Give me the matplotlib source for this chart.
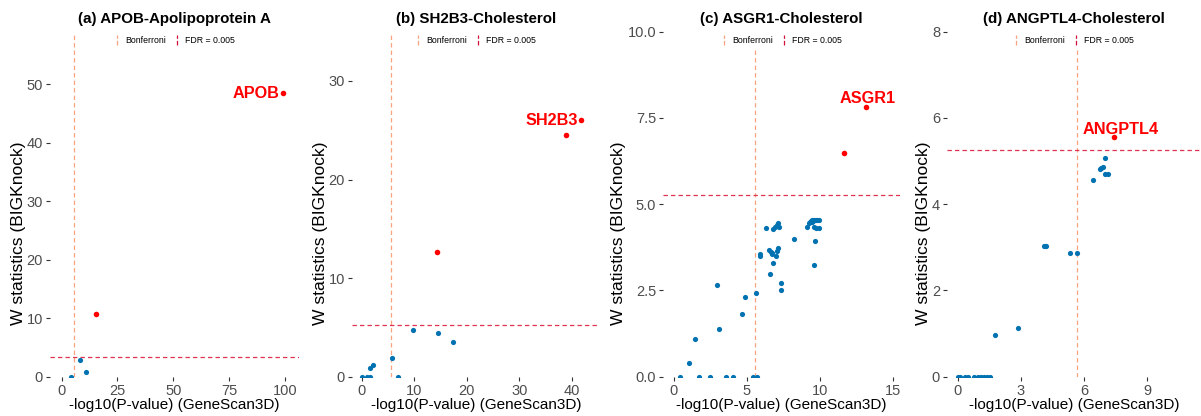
import matplotlib
matplotlib.use("Agg")
import matplotlib.pyplot as plt
from matplotlib.lines import Line2D
from matplotlib.legend_handler import HandlerBase
from matplotlib.ticker import FormatStrFormatter, FixedLocator

plt.rcParams['font.family'] = ['Liberation Sans', 'DejaVu Sans']

# ---------------- data ----------------
titles = ["(a) APOB-Apolipoprotein A", "(b) SH2B3-Cholesterol",
          "(c) ASGR1-Cholesterol", "(d) ANGPTL4-Cholesterol"]
genes = ["APOB", "SH2B3", "ASGR1", "ANGPTL4"]

a_blue_x = [4.0, 8.2, 11.0]
a_blue_y = [0.0, 2.8, 0.86]
a_red_x = [15.4, 99.2]
a_red_y = [10.7, 48.5]

b_blue_x = [0.1, 1.0, 1.65, 6.98, 1.52, 2.22, 5.84, 9.78, 14.6, 17.4]
b_blue_y = [0.0, 0.0, 0.0, 0.0, 0.85, 1.15, 1.93, 4.73, 4.43, 3.55]
b_red_x = [14.4, 39.0, 41.85]
b_red_y = [12.66, 24.5, 26.0]

c_blue_x = [0.46, 1.75, 2.5, 3.6, 4.09, 5.45, 5.7,
            1.09, 1.50, 3.14, 2.96, 4.71, 4.89, 5.64, 7.36, 7.36, 6.61, 6.80,
            7.0, 5.91, 5.93, 6.55, 6.65, 6.72, 6.77, 7.11, 7.18, 6.30, 6.84,
            6.95, 7.05, 7.14, 7.23, 8.27, 9.66, 9.59, 9.13, 9.27, 9.39, 9.5,
            9.61, 9.73, 9.84, 9.95, 9.33, 9.45, 9.56, 9.59, 9.77, 9.93]
c_blue_y = [0.0, 0.0, 0.0, 0.0, 0.0, 0.0, 0.0,
            0.40, 1.10, 1.38, 2.67, 1.83, 2.32, 2.42, 2.71, 2.51, 2.98, 3.31,
            3.49, 3.50, 3.55, 3.68, 3.62, 3.59, 3.57, 3.63, 3.74, 4.30, 4.29,
            4.34, 4.40, 4.45, 4.35, 4.00, 3.93, 3.23, 4.35, 4.45, 4.50, 4.54,
            4.55, 4.55, 4.55, 4.55, 4.47, 4.48, 4.50, 4.33, 4.30, 4.31]
c_red_x = [11.64, 13.18]
c_red_y = [6.47, 7.82]

d_blue_x = [0.0, 0.12, 0.35, 0.5, 0.8, 0.95, 1.1, 1.25, 1.4, 1.55,
            1.79, 2.86, 4.11, 4.16, 4.21, 5.34, 5.69, 6.43, 6.74, 6.82, 6.9,
            6.98, 7.01, 7.14]
d_blue_y = [0.0, 0.0, 0.0, 0.0, 0.0, 0.0, 0.0, 0.0, 0.0, 0.0,
            0.97, 1.14, 3.03, 3.03, 3.03, 2.86, 2.86, 4.57, 4.81, 4.84, 4.86,
            5.06, 4.71, 4.70]
d_red_x = [7.44]
d_red_y = [5.55]

bonferroni = [5.6, 5.65, 5.61, 5.65]
fdr = [3.45, 5.24, 5.26, 5.25]

x_ticks = [[0, 25, 50, 75, 100], [0, 10, 20, 30, 40], [0, 5, 10, 15], [0, 3, 6, 9]]
y_ticks = [[0, 10, 20, 30, 40, 50], [0, 10, 20, 30], [0, 2.5, 5.0, 7.5, 10.0], [0, 2, 4, 6, 8]]
y_fmt = ['%d', '%d', '%.1f', '%d']
x_lims = [(-5.2, 106.3), (-1.85, 45.4), (-0.72, 15.5), (-0.5, 11.55)]
y_lims = [(0, 59.0), (0, 35.0), (0, 10.0), (0, 8.0)]

blue_x = [a_blue_x, b_blue_x, c_blue_x, d_blue_x]
blue_y = [a_blue_y, b_blue_y, c_blue_y, d_blue_y]
red_x = [a_red_x, b_red_x, c_red_x, d_red_x]
red_y = [a_red_y, b_red_y, c_red_y, d_red_y]

# ---------------- style ----------------
W, H = 1201, 416
panel_px = [(50, 299), (352, 600), (663, 900), (947, 1201)]
top_px, bot_px = 31.7, 376.7
label_offsets = [(-3.0, 0, 'right', 'center'), (-2.6, 0, 'right', 'center'),
                 (1.4, 6.3, 'center', 'center'), (4.6, 5.8, 'center', 'center')]

BLUE = '#0072B2'
RED = '#FF0000'
BONF_COL = '#F8A27E'
FDR_COL = '#E0334F'


class VLineHandler(HandlerBase):
    def create_artists(self, legend, orig_handle, xdescent, ydescent,
                       width, height, fontsize, trans):
        x = width / 2.0 - xdescent
        l = Line2D([x, x], [-ydescent - 1.5, height - ydescent + 1.5],
                   color=orig_handle.get_color(),
                   linestyle=orig_handle.get_linestyle(),
                   linewidth=orig_handle.get_linewidth())
        l.set_transform(trans)
        return [l]


fig = plt.figure(figsize=(W / 100, H / 100), dpi=100)

for i in range(4):
    l, r = panel_px[i]
    ax = fig.add_axes([l / W, 1 - bot_px / H, (r - l) / W, (bot_px - top_px) / H])
    for s in ax.spines.values():
        s.set_visible(False)
    ax.set_xlim(*x_lims[i])
    ax.set_ylim(*y_lims[i])
    ax.xaxis.set_major_locator(FixedLocator(x_ticks[i]))
    ax.yaxis.set_major_locator(FixedLocator(y_ticks[i]))
    ax.yaxis.set_major_formatter(FormatStrFormatter(y_fmt[i]))
    ax.tick_params(length=3, width=0.8, color='#333333', labelcolor='#4D4D4D',
                   labelsize=10.5, pad=2)

    ax.axvline(bonferroni[i], color=BONF_COL, ls=(0, (3.5, 2.5)), lw=0.9, zorder=1)
    ax.axhline(fdr[i], color=FDR_COL, ls=(0, (3.5, 2.5)), lw=0.9, zorder=1)

    ax.scatter(blue_x[i], blue_y[i], s=14, color=BLUE, linewidths=0, zorder=3)
    ax.scatter(red_x[i], red_y[i], s=16, color=RED, linewidths=0, zorder=3)

    # label the top red point
    k = red_y[i].index(max(red_y[i]))
    dx, dy, ha, va = label_offsets[i]
    ax.annotate(genes[i], (red_x[i][k], red_y[i][k]), xytext=(dx, dy),
                textcoords='offset points', ha=ha, va=va, color=RED,
                fontsize=11.7, fontweight='bold', zorder=4, annotation_clip=False)

    ax.set_title(titles[i], fontsize=10.9, fontweight='bold', pad=6.5)
    ax.set_xlabel('-log10(P-value) (GeneScan3D)', fontsize=11.0, labelpad=0.5)
    ax.set_ylabel('W statistics (BIGKnock)', fontsize=12.6, labelpad=0.8, y=0.4165)

    handles = [Line2D([], [], color=BONF_COL, ls=(0, (2.5, 1.5)), lw=0.9),
               Line2D([], [], color='#D0103A', ls=(0, (2.5, 1.5)), lw=0.9)]
    leg = ax.legend(handles, ['Bonferroni', 'FDR = 0.005'],
                    handler_map={Line2D: VLineHandler()}, ncol=2,
                    loc='upper center', bbox_to_anchor=(0.5, 1.0),
                    borderaxespad=0, fontsize=6.3, frameon=True,
                    facecolor='white', edgecolor='none', framealpha=1,
                    fancybox=False, handlelength=0.6, handletextpad=0.6,
                    columnspacing=1.0, borderpad=0.5)
    leg.set_zorder(5)

fig.savefig('out.png', dpi=100, facecolor='white')
